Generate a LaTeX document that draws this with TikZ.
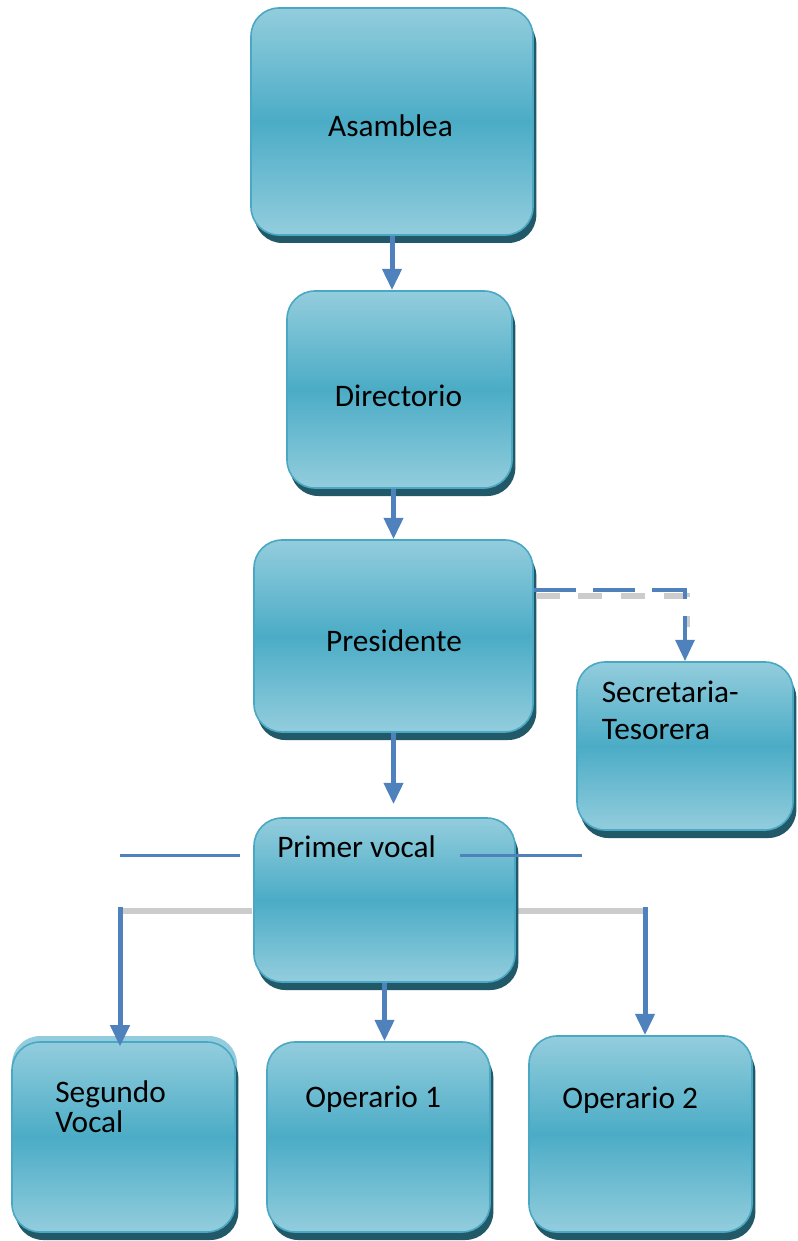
\documentclass[tikz,border=0pt]{standalone}
\usepackage{fontspec}
\setmainfont{Carlito}
\usetikzlibrary{arrows.meta,shadows}

\definecolor{boxlight}{RGB}{147,205,221}
\definecolor{boxmid}{RGB}{75,172,198}
\definecolor{boxedge}{RGB}{74,168,196}
\definecolor{boxshade}{RGB}{33,89,104}
\definecolor{linkblue}{RGB}{79,129,189}
\definecolor{linkgray}{RGB}{204,204,204}

\begin{document}
\begin{tikzpicture}[x=0.75pt,y=0.75pt,
  orgbox/.style={draw=boxedge,line width=1.2pt,rounded corners=21pt,inner sep=0pt,
    top color=boxlight,bottom color=boxlight,middle color=boxmid,
    drop shadow={shadow xshift=2.5pt,shadow yshift=-6pt,fill=boxshade,opacity=1}},
  orgtext/.style={inner sep=0pt,align=left,font=\fontsize{23.5}{28}\selectfont},
  link/.style={draw=linkblue,line width=3.75pt,-{Triangle[width=14pt,length=16pt]}},
  dashlink/.style={draw=linkblue,line width=3pt,dash pattern=on 31.5pt off 12.75pt,-{Triangle[width=14pt,length=16pt]}},
  dashshade/.style={draw=linkgray,line width=4.5pt,dash pattern=on 18pt off 14pt},
  forkshade/.style={draw=linkgray,line width=4.5pt},
  forkline/.style={draw=linkblue,line width=2.25pt}]
%set diagram to the page size
\useasboundingbox (0,0) rectangle (797,-1241);

%Straight Lines: grey bars beside Primer vocal
\draw [forkshade] (120,-911) -- (252,-911) ;
\draw [forkshade] (514,-911) -- (645,-911) ;

%Shape: Rounded Rect
\node [orgbox,minimum width=211.5pt,minimum height=170.25pt] (asamblea) at (392,-121.5) {};
%Shape: Rounded Rect
\node [orgbox,minimum width=168.75pt,minimum height=147.75pt] (directorio) at (399.5,-389.5) {};
%Shape: Rounded Rect
\node [orgbox,minimum width=209.25pt,minimum height=144pt] (presidente) at (393.5,-636) {};
%Shape: Rounded Rect
\node [orgbox,minimum width=162pt,minimum height=126pt] (secretaria) at (685,-746) {};
%Shape: Rounded Rect
\node [orgbox,minimum width=195.75pt,minimum height=123pt] (primer) at (384.5,-900) {};
%Shape: Rounded Rect (light rim)
\fill [boxlight,rounded corners=21pt] (12,-1036) rectangle (237,-1232) ;
%Shape: Rounded Rect
\node [orgbox,minimum width=167.25pt,minimum height=142.5pt] (segundo) at (123.5,-1137) {};
%Shape: Rounded Rect
\node [orgbox,minimum width=167.25pt,minimum height=142.5pt] (operario1) at (378.5,-1137) {};
%Shape: Rounded Rect
\node [orgbox,minimum width=167.25pt,minimum height=147pt] (operario2) at (640.5,-1134) {};

% Text Node
\node [orgtext,anchor=base] (tasamblea) at (390.5,-137) {Asamblea};
% Text Node
\node [orgtext,anchor=base] (tdirectorio) at (398.5,-406) {Directorio};
% Text Node
\node [orgtext,anchor=base] (tpresidente) at (394,-651) {Presidente};
% Text Node
\node [orgtext,anchor=base west,font=\fontsize{23.5}{27.75}\selectfont] (tsecretaria) at (601.5,-739) {Secretaria-\\Tesorera};
% Text Node
\node [orgtext,anchor=base west] (tprimer) at (277,-857) {Primer vocal};
% Text Node
\node [orgtext,anchor=base west,font=\fontsize{23.5}{22.5}\selectfont] (tsegundo) at (55,-1132) {Segundo\\Vocal};
% Text Node
\node [orgtext,anchor=base west] (toperario1) at (305,-1107) {Operario 1};
% Text Node
\node [orgtext,anchor=base west] (toperario2) at (562,-1108) {Operario 2};

%Straight Lines
\draw [link] (asamblea.south) -- (asamblea.south |- directorio.north) ;
\draw [link] (presidente.north |- directorio.south) -- (presidente.north) ;
\draw [link,shorten >=9.75pt] (presidente.south) -- (presidente.south |- primer.north) ;
%Connector: dashed, to Secretaria
\draw [dashshade] ([xshift=1.5pt,yshift=-42.75pt]presidente.north east) -| ([xshift=1.5pt,yshift=25.5pt]secretaria.north) ;
\draw [dashlink] ([yshift=-38.25pt]presidente.north east) -| (secretaria.north) ;
%Connector: fork below Primer vocal
\coordinate (forkL) at (120,-907);
\coordinate (forkR) at (645,-907);
\draw [link,shorten >=-4pt] (forkL) -- (forkL |- segundo.north) ;
\draw [link] (primer.south) -- (primer.south |- operario1.north) ;
\draw [link] (forkR) -- (forkR |- operario2.north) ;
%Straight Lines: blue bars beside Primer vocal
\draw [forkline] (120,-855) -- (240,-855) ;
\draw [forkline] (460,-855) -- (582,-855) ;

\end{tikzpicture}
\end{document}
